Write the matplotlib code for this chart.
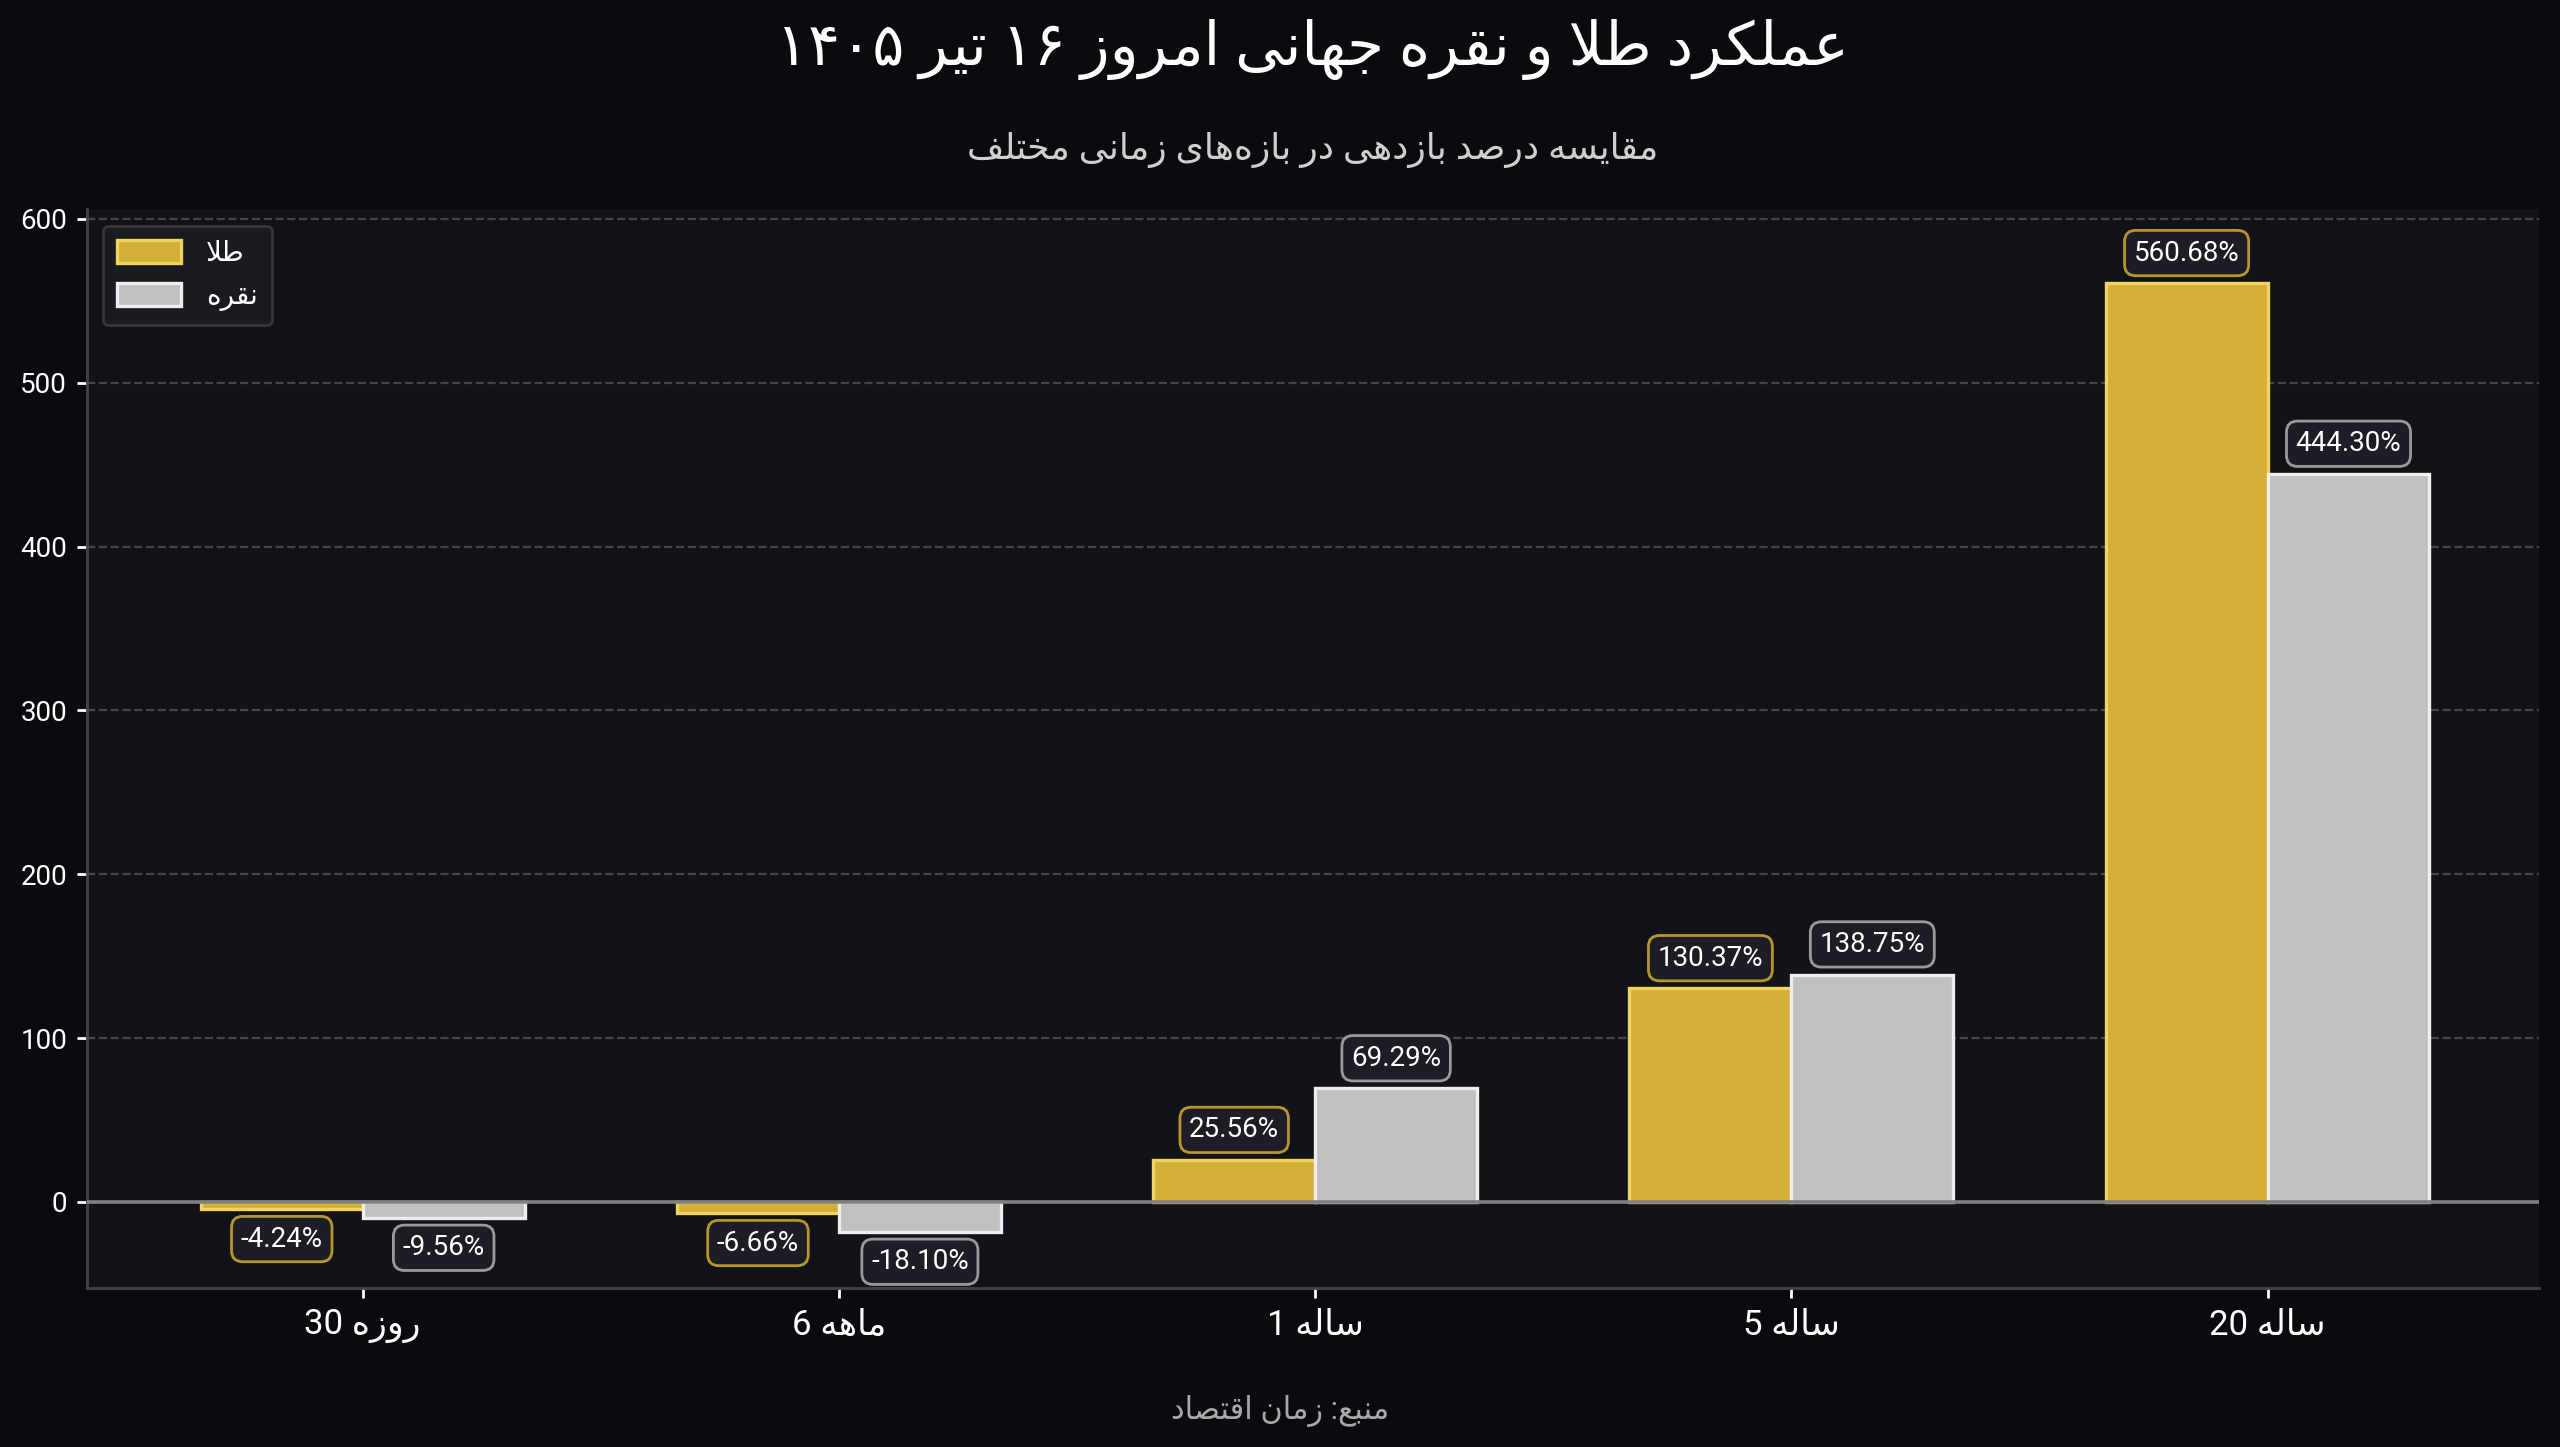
"""Gold vs silver returns chart (Persian labels)."""

import matplotlib

matplotlib.use("Agg")
import matplotlib.pyplot as plt
import numpy as np

# data
PERIODS = ["30 روزه", "6 ماهه", "1 ساله", "5 ساله", "20 ساله"]
GOLD = [-4.24, -6.66, 25.56, 130.37, 560.68]
SILVER = [-9.56, -18.10, 69.29, 138.75, 444.30]
SERIES_NAMES = ["طلا", "نقره"]
TITLE = "عملکرد طلا و نقره جهانی امروز ۱۶ تیر ۱۴۰۵"
SUBTITLE = "مقایسه درصد بازدهی در بازه‌های زمانی مختلف"
SOURCE = "منبع: زمان اقتصاد"
Y_TICKS = [0, 100, 200, 300, 400, 500, 600]

COLORS = {
    "fig": "#0b0b0f",
    "axes": "#121318",
    "gold": "#d4af37",
    "gold_edge": "#f2d35f",
    "gold_box": "#b8962e",
    "silver": "#c0c0c0",
    "silver_edge": "#eeeeee",
    "silver_box": "#9a9a9a",
    "box": "#1c1d25",
    "grid": "#44464c",
    "spine": "#444448",
}

# minimal arabic/persian shaping: (isolated, final, initial, medial)
FORMS = {
    "ا": (0xFE8D, 0xFE8E, None, None),
    "ب": (0xFE8F, 0xFE90, 0xFE91, 0xFE92),
    "ت": (0xFE95, 0xFE96, 0xFE97, 0xFE98),
    "ج": (0xFE9D, 0xFE9E, 0xFE9F, 0xFEA0),
    "خ": (0xFEA5, 0xFEA6, 0xFEA7, 0xFEA8),
    "د": (0xFEA9, 0xFEAA, None, None),
    "ر": (0xFEAD, 0xFEAE, None, None),
    "ز": (0xFEAF, 0xFEB0, None, None),
    "س": (0xFEB1, 0xFEB2, 0xFEB3, 0xFEB4),
    "ص": (0xFEB9, 0xFEBA, 0xFEBB, 0xFEBC),
    "ط": (0xFEC1, 0xFEC2, 0xFEC3, 0xFEC4),
    "ع": (0xFEC9, 0xFECA, 0xFECB, 0xFECC),
    "ف": (0xFED1, 0xFED2, 0xFED3, 0xFED4),
    "ق": (0xFED5, 0xFED6, 0xFED7, 0xFED8),
    "ل": (0xFEDD, 0xFEDE, 0xFEDF, 0xFEE0),
    "م": (0xFEE1, 0xFEE2, 0xFEE3, 0xFEE4),
    "ن": (0xFEE5, 0xFEE6, 0xFEE7, 0xFEE8),
    "ه": (0xFEE9, 0xFEEA, 0xFEEB, 0xFEEC),
    "و": (0xFEED, 0xFEEE, None, None),
    "ک": (0xFB8E, 0xFB8F, 0xFB90, 0xFB91),
    "ی": (0xFBFC, 0xFBFD, 0xFBFE, 0xFBFF),
    "لا": (0xFEFB, 0xFEFC, None, None),
}
LTR_CHARS = set("0123456789۰۱۲۳۴۵۶۷۸۹.%")


def _joins_next(ch):
    return ch in FORMS and FORMS[ch][2] is not None


def _shape(text):
    # merge lam-alef, ZWNJ only breaks the joining
    units = []
    i = 0
    while i < len(text):
        if text[i] == "ل" and i + 1 < len(text) and text[i + 1] == "ا":
            units.append("لا")
            i += 2
        else:
            units.append(text[i])
            i += 1
    out = []
    for k, u in enumerate(units):
        if u not in FORMS:
            if u != "\u200c":
                out.append(u)
            continue
        prev = units[k - 1] if k > 0 else ""
        nxt = units[k + 1] if k + 1 < len(units) else ""
        p = _joins_next(prev)
        n = _joins_next(u) and nxt in FORMS
        iso, fin, ini, med = FORMS[u]
        if p and n:
            code = med
        elif p:
            code = fin
        elif n:
            code = ini
        else:
            code = iso
        out.append(chr(code))
    return "".join(out)


def fa(text, rtl=True):
    if not rtl:
        # left-to-right base: keep word order, shape each word
        return " ".join(fa(word) for word in text.split(" "))
    shaped = _shape(text)
    runs = []
    for ch in shaped:
        kind = ch in LTR_CHARS
        if runs and runs[-1][0] == kind:
            runs[-1][1] += ch
        else:
            runs.append([kind, ch])
    pieces = [r[1] if r[0] else r[1][::-1] for r in runs]
    return "".join(pieces[::-1])


FONT = ["Roboto", "DejaVu Sans"]
plt.rcParams["font.family"] = FONT

fig = plt.figure(figsize=(12.8, 7.235), dpi=200, facecolor=COLORS["fig"])
ax = fig.add_axes([0.0338, 0.1099, 0.958, 0.7457])
ax.set_facecolor(COLORS["axes"])

x = np.arange(len(PERIODS))
width = 0.34
gold_bars = ax.bar(x - width / 2, GOLD, width, color=COLORS["gold"], edgecolor=COLORS["gold_edge"],
                   linewidth=1.2, label=fa(SERIES_NAMES[0]), zorder=3)
silver_bars = ax.bar(x + width / 2, SILVER, width, color=COLORS["silver"], edgecolor=COLORS["silver_edge"],
                     linewidth=1.2, label=fa(SERIES_NAMES[1]), zorder=3)

for bars, values, edge in [(gold_bars, GOLD, COLORS["gold_box"]), (silver_bars, SILVER, COLORS["silver_box"])]:
    for bar, value in zip(bars, values):
        cx = bar.get_x() + bar.get_width() / 2
        up = value >= 0
        ax.annotate(
            f"{value:.2f}%",
            (cx, value),
            xytext=(0, 6 if up else -6),
            textcoords="offset points",
            ha="center",
            va="bottom" if up else "top",
            fontsize=10,
            color="white",
            zorder=5,
            bbox=dict(boxstyle="round,pad=0.33,rounding_size=0.4", facecolor=COLORS["box"], edgecolor=edge, linewidth=1),
        )

ax.axhline(0, color="#808080", linewidth=1.3, zorder=4)
ax.set_ylim(-52.5, 606)
ax.set_xlim(-0.58, 4.57)
ax.set_yticks(Y_TICKS)
ax.set_xticks(x, [fa(p, rtl=False) for p in PERIODS])
ax.tick_params(axis="y", colors="white", labelsize=10, length=3.5, width=1)
ax.tick_params(axis="x", colors="white", labelsize=12.5, length=3.5, width=1, pad=4)
ax.yaxis.grid(True, linestyle="--", color=COLORS["grid"], linewidth=0.8, zorder=0)
ax.set_axisbelow(True)
for side in ["top", "right"]:
    ax.spines[side].set_visible(False)
for side in ["left", "bottom"]:
    ax.spines[side].set_color(COLORS["spine"])
    ax.spines[side].set_linewidth(1)

legend = ax.legend(loc="upper left", fontsize=10, facecolor="#1a1b21", edgecolor="#34363c",
                   labelcolor="white", framealpha=1, fancybox=True, handlelength=2.3,
                   handleheight=0.9, labelspacing=0.6, borderpad=0.5, handletextpad=0.9,
                   borderaxespad=0.6)
legend.get_frame().set_linewidth(1)

center_x = 0.0338 + 0.958 / 2
fig.text(center_x, 0.966, fa(TITLE), ha="center", va="center", fontsize=21.5, color="white")
fig.text(center_x, 0.8965, fa(SUBTITLE), ha="center", va="center", fontsize=13, color="#cfcfcf")
fig.text(0.5, 0.025, fa(SOURCE), ha="center", va="center", fontsize=11, color="#a8a8a8")

fig.savefig("out.png", dpi=200, facecolor=COLORS["fig"])
